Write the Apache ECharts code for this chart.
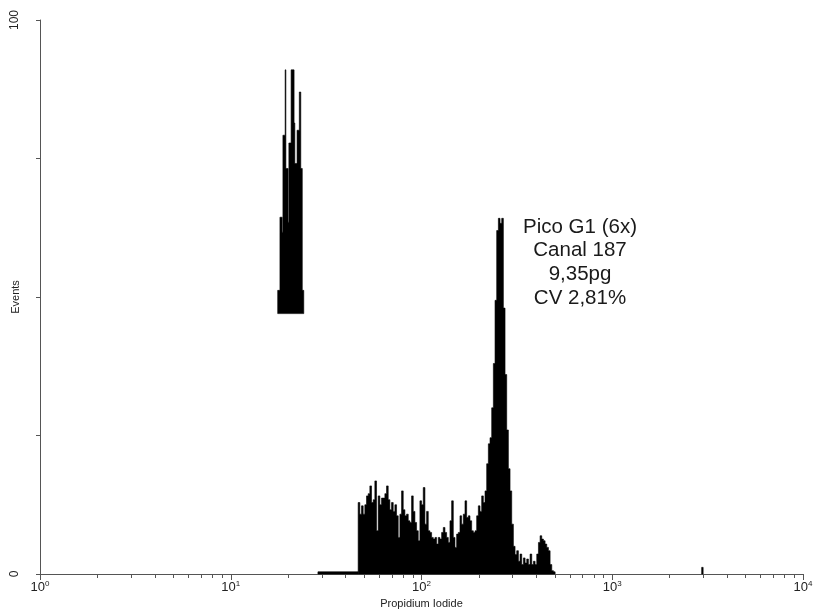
<!DOCTYPE html>
<html>
<head>
<meta charset="utf-8">
<script src="https://cdn.jsdelivr.net/npm/echarts@6/dist/echarts.min.js"></script>
<style>
  html, body { margin: 0; padding: 0; background: #fff; }
  #chart { width: 815px; height: 610px; }
</style>
</head>
<body>
<div id="chart"></div>
<script>
// log scale, 1024 channels over 4 decades
const CHANNELS_PER_DECADE = 256

// first (reference) peak: bin edges in channels, tops, and floor of the block
const peak1Edges = [319, 322, 325, 326, 329, 330, 333, 334, 337, 338, 341, 342, 345, 348, 350, 352, 354]
const peak1Tops = [51.2, 64.4, 61.7, 79.2, 91.0, 73.2, 63.5, 77.8, 91.0, 91.0, 81.4, 74.1, 80.1, 87.0, 73.2, 51.2]
const peak1Base = 47

// main sample histogram
const mainStartChannel = 427
const mainBinChannels = 2.24
const mainCounts = [
  12.9, 10.8, 12.3, 10.8, 12.5, 14.1, 14.5, 15.9, 12.9, 13.4,
  16.8, 7.8, 14.1, 12.5, 13.7, 13.7, 14.5, 15.9, 13.4, 11.6,
  12.9, 11.3, 12.5, 10.5, 6.6, 10.8, 15.0, 11.6, 10.5, 10.8,
  9.6, 9.3, 14.1, 11.3, 9.3, 7.8, 6.0, 13.2, 12.5, 15.6,
  9.0, 11.3, 7.8, 7.5, 6.6, 6.3, 6.6, 5.4, 6.6, 6.3,
  7.5, 8.4, 7.5, 6.6, 5.7, 9.6, 13.2, 6.6, 4.8, 7.2,
  7.5, 10.5, 9.0, 10.8, 13.2, 10.2, 10.5, 9.6, 7.8, 7.5,
  7.8, 10.5, 12.3, 11.3, 14.1, 12.9, 15.0,
  19.9, 23.5, 24.6, 30.0, 38.0, 49.4, 62.0, 64.2, 63.3, 64.2,
  48.0, 36.0, 26.0, 19.0, 15.0, 9.0, 5.0, 3.5, 4.2, 2.3,
  3.6, 1.7, 2.9, 2.0, 2.7, 1.7, 3.6, 1.7, 2.3, 1.7,
  3.6, 5.7, 6.9, 6.3, 6.0, 5.4, 4.8, 4.2, 1.7, 0.6, 0.4
]

// low debris line and the lone event near 3000
const debrisEdges = [373, 427]
const debrisCounts = [0.4]
const spikeEdges = [888, 890]
const spikeCounts = [1.2]

const xTickValues = [
  1, 2, 3, 4, 5, 6, 7, 8, 9,
  10, 20, 30, 40, 50, 60, 70, 80, 90,
  100, 200, 300, 400, 500, 600, 700, 800, 900,
  1000, 2000, 3000, 4000, 5000, 6000, 7000, 8000, 9000, 10000
]
const xDecades = [1, 10, 100, 1000, 10000]
const yTicks = [0, 25, 50, 75, 100]
const yLabels = [0, 100]

const annotation = ['Pico G1 (6x)', 'Canal 187', '9,35pg', 'CV 2,81%']

const chToValue = ch => Math.pow(10, ch / CHANNELS_PER_DECADE)

// closed step outline of a histogram, in data units
function outline(edges, counts, base) {
  const pts = [[chToValue(edges[0]), base]]
  counts.forEach((c, i) => {
    pts.push([chToValue(edges[i]), c])
    pts.push([chToValue(edges[i + 1]), c])
  })
  pts.push([chToValue(edges[edges.length - 1]), base])
  return pts
}

const mainEdges = mainCounts.map((c, i) => mainStartChannel + i * mainBinChannels)
mainEdges.push(mainStartChannel + mainCounts.length * mainBinChannels)

const axisColor = '#555'
const font = 'Liberation Sans, Arial, sans-serif'

// one filled polygon per histogram, mapped through the axes
function histSeries(points) {
  return {
    type: 'custom',
    xAxisIndex: 0,
    silent: true,
    encode: { x: 0, y: 1 },
    data: points,
    renderItem: (params, api) => {
      if (params.dataIndex !== 0) return null
      return {
        type: 'polygon',
        shape: { points: points.map(p => api.coord(p)) },
        style: { fill: '#000', stroke: '#000', lineWidth: 0.6 }
      }
    }
  }
}

const chart = echarts.init(document.getElementById('chart'))
chart.setOption({
  animation: false,
  backgroundColor: '#fff',
  grid: { left: 40, right: 12, top: 20, bottom: 36, containLabel: false, outerBoundsMode: 'none' },
  xAxis: [{
    type: 'log',
    logBase: 10,
    min: 1,
    max: 10000,
    name: 'Propidium Iodide',
    nameLocation: 'middle',
    nameGap: 22,
    nameTextStyle: { fontFamily: font, fontSize: 11, color: '#222' },
    axisLine: { lineStyle: { color: axisColor, width: 1 } },
    axisTick: { customValues: xTickValues, length: 4, lineStyle: { color: axisColor } },
    axisLabel: {
      customValues: xDecades,
      margin: 6,
      formatter: v => '{b|10}{s|' + Math.round(Math.log10(v)) + '}',
      rich: {
        b: { fontFamily: font, fontSize: 13, color: '#222', lineHeight: 14 },
        s: { fontFamily: font, fontSize: 8, color: '#222', verticalAlign: 'top', lineHeight: 10 }
      }
    },
    splitLine: { show: false }
  }, {
    type: 'log',
    logBase: 10,
    min: 1,
    max: 10000,
    position: 'bottom',
    axisLine: { show: false },
    axisTick: { customValues: xDecades, length: 6, lineStyle: { color: axisColor } },
    axisLabel: { show: false },
    splitLine: { show: false }
  }],
  yAxis: {
    type: 'value',
    min: 0,
    max: 100,
    interval: 25,
    name: 'Events',
    nameLocation: 'middle',
    nameRotate: 90,
    nameGap: 19,
    nameMoveOverlap: false,
    nameTextStyle: { fontFamily: font, fontSize: 11, color: '#222' },
    axisLine: { show: true, lineStyle: { color: axisColor, width: 1 } },
    axisTick: { show: true, customValues: yTicks, length: 4, lineStyle: { color: axisColor } },
    axisLabel: {
      customValues: yLabels,
      rotate: 90,
      margin: 19,
      fontFamily: font,
      fontSize: 12,
      color: '#222'
    },
    splitLine: { show: false }
  },
  graphic: [{
    type: 'text',
    x: 580,
    y: 215,
    style: {
      text: annotation.join('\n'),
      fontFamily: font,
      fontSize: 20.5,
      lineHeight: 23.8,
      fill: '#1a1a1a',
      align: 'center',
      verticalAlign: 'top'
    }
  }],
  series: [
    histSeries(outline(peak1Edges, peak1Tops, peak1Base)),
    histSeries(outline(mainEdges, mainCounts, 0)),
    histSeries(outline(debrisEdges, debrisCounts, 0)),
    histSeries(outline(spikeEdges, spikeCounts, 0))
  ]
})
</script>
</body>
</html>
